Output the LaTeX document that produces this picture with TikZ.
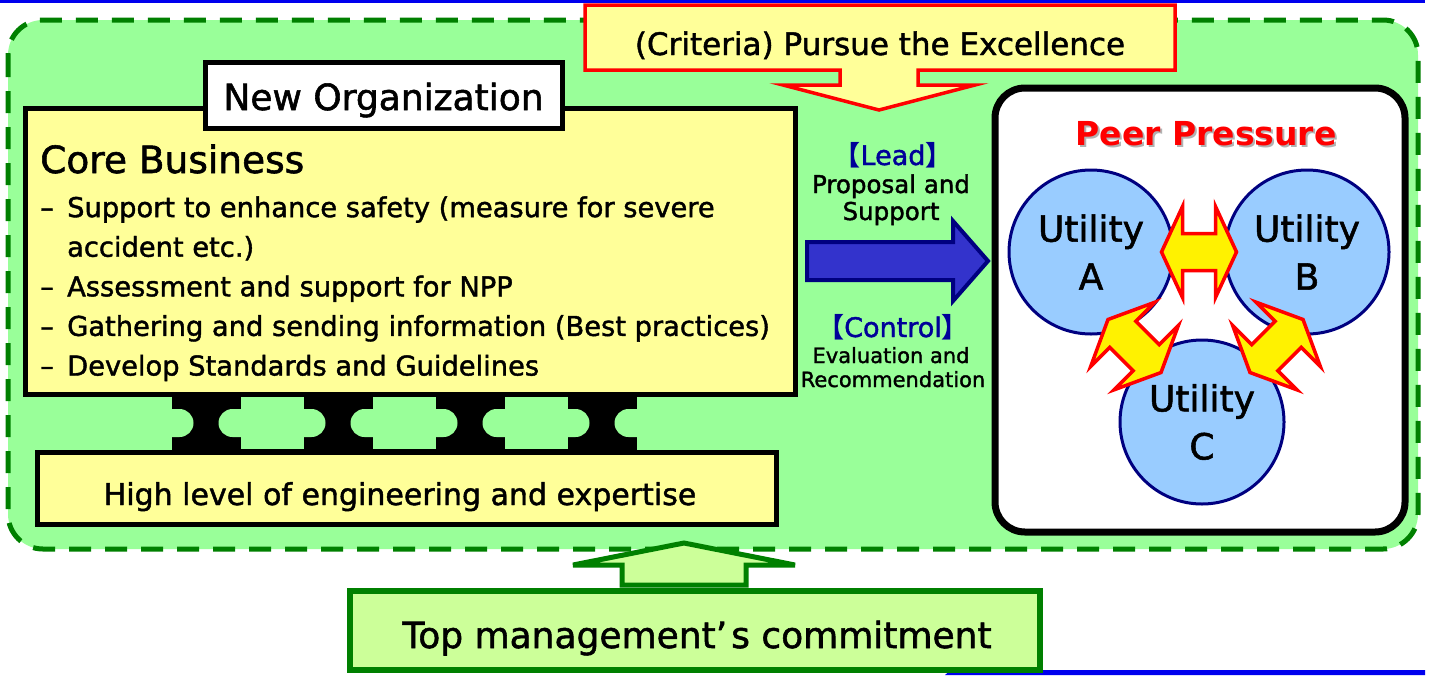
\documentclass[tikz,border=0pt]{standalone}
\usepackage{fontspec}
\setmainfont{DejaVu Sans}[UprightFeatures={FakeBold=1.5}]
\newfontfamily\cjkfont{Noto Sans CJK JP}
\usetikzlibrary{calc}
\definecolor{bggreen}{HTML}{99FF99}
\definecolor{dashgreen}{HTML}{008000}
\definecolor{paleyellow}{HTML}{FFFF99}
\definecolor{lightlime}{HTML}{CCFF99}
\definecolor{arrowblue}{HTML}{3333CC}
\definecolor{navy}{HTML}{000080}
\definecolor{leadblue}{HTML}{000099}
\definecolor{utilblue}{HTML}{99CCFF}
\definecolor{slideblue}{HTML}{0000EE}
\newcommand{\fsz}[2]{\fontsize{#1}{#2}\selectfont}

\tikzset{
  blkbox/.style={draw=black, line width=5pt, inner sep=0pt},
  txt/.style={anchor=base, inner sep=0pt},
  item/.style={anchor=base west, inner sep=0pt, font=\fsz{27.3}{34}},
  util/.style={circle, draw=navy, line width=3pt, fill=utilblue, minimum size=164pt,
    inner sep=0pt, align=center, font=\fsz{36}{48}},
  dblarrow/.pic={
    \draw[red, line width=3.5pt, fill=yellow] (-37.5,0) -- (-16.5,-45.5) -- (-16.5,-18.5)
      -- (16.5,-18.5) -- (16.5,-45.5) -- (37.5,0) -- (16.5,45.5) -- (16.5,18.5)
      -- (-16.5,18.5) -- (-16.5,45.5) -- cycle;
  }
}

\begin{document}
\begin{tikzpicture}[x=1pt,y=-1pt]
        \useasboundingbox (0,0) rectangle (1431,675);
        % slide rules
        \fill[slideblue] (0,0) rectangle (1425,2.5);
        \fill[slideblue] (945,675) -- (951,670) -- (1425,670) -- (1425,675) -- cycle;
        % green area
        \draw[dashgreen, line width=5pt, dash pattern=on 22pt off 14pt, fill=bggreen,
          rounded corners=35pt] (8,20) rectangle (1418,549);
        % criteria
        \draw[red, line width=3.5pt, fill=paleyellow] (585,5) -- (1175,5) -- (1175,70)
          -- (918,70) -- (918,85) -- (975,85) -- (879,110) -- (783,85) -- (840,85)
          -- (840,70) -- (585,70) -- cycle;
        \node[txt, font=\fsz{31}{31}] (criteria) at (880,55) {(Criteria) Pursue the Excellence};
        % core business
        \node[blkbox, fill=paleyellow, minimum width=770, minimum height=286.5] (corebox) at (410.5,251.25) {};
        \node[txt, anchor=base west, font=\fsz{37.5}{37.5}] (coretitle) at (40,173) {Core Business};
        \foreach \t [count=\i] in {%
          {\makebox[27pt][l]{–}Support to enhance safety (measure for severe},
          {\hspace*{27pt}accident etc.)},
          {\makebox[27pt][l]{–}Assessment and support for NPP},
          {\makebox[27pt][l]{–}Gathering and sending information (Best practices)},
          {\makebox[27pt][l]{–}Develop Standards and Guidelines}}
        \node[item] (task\i) at (40,177.5+39.6*\i) {\t};
        % joint
        \fill (172,394.5) rectangle (637,452.5);
        \foreach \c in {140,272,404,536,668} {
          \fill[bggreen] (\c-31.5,397) rectangle (\c+31.5,449);
          \fill[bggreen, rounded corners=14pt] (\c-53.5,409) rectangle (\c+53.5,437);
        }
        \node[blkbox, fill=paleyellow, minimum width=738.5, minimum height=72] (expbox) at (407,488.5) {};
        \node[txt, font=\fsz{30}{30}] (exptext) at (400,505) {High level of engineering and expertise};
        \node[blkbox, fill=white, minimum width=357, minimum height=66] (neworg) at (383.5,95) {};
        \node[txt, font=\fsz{36}{36}] (neworgtext) at (383.5,110) {New Organization};
        % lead and control
        \node[txt, font=\fsz{27}{27}, text=leadblue] (lead) at (893,165) {{\cjkfont\bfseries【}Lead{\cjkfont\bfseries】}};
        \node[txt, font=\fsz{24.5}{24.5}] (leadtext1) at (891,193) {Proposal and};
        \node[txt, font=\fsz{24.5}{24.5}] (leadtext2) at (891,220) {Support};
        \node[txt, font=\fsz{27}{27}, text=leadblue] (control) at (893,337) {{\cjkfont\bfseries【}Control{\cjkfont\bfseries】}};
        \node[txt, font=\fsz{21}{21}] (controltext1) at (891,363) {Evaluation and};
        \node[txt, font=\fsz{21}{21}] (controltext2) at (893,387) {Recommendation};
        \draw[navy, line width=4pt, fill=arrowblue] (807,242) -- (953,242) -- (953,221)
          -- (988,261) -- (953,301) -- (953,280) -- (807,280) -- cycle;
        % peer pressure
        \node[draw=black, line width=7pt, fill=white, rounded corners=30pt,
          minimum width=410, minimum height=444] (peerbox) at (1200,310) {};
        \node[txt, font=\bfseries\fsz{33}{33}, text=black!30] (peershadow) at (1208,147) {Peer Pressure};
        \node[txt, font=\bfseries\fsz{33}{33}, text=red] (peertitle) at (1206,145) {Peer Pressure};
        \node[util] (ua) at (1091,252) {Utility\\A};
        \node[util] (ub) at (1307,252) {Utility\\B};
        \node[util] (uc) at (1202,422) {Utility\\C};
        \pic at ($(ua)!.5!(ub)$) {dblarrow};
        \pic[rotate=-45] at ($(ua)!.5!(uc)+(-12,9)$) {dblarrow};
        \pic[rotate=45] at ($(ub)!.5!(uc)+(22,9)$) {dblarrow};
        % commitment
        \draw[dashgreen, line width=5pt, fill=lightlime] (622,585) -- (622,565) -- (573,565)
          -- (684,543) -- (795,565) -- (746,565) -- (746,585) -- cycle;
        \node[draw=dashgreen, line width=6pt, fill=lightlime, minimum width=690,
          minimum height=79] (topbox) at (695,630.5) {};
        \node[txt, font=\fsz{36}{36}] (toptext) at (697,648) {Top management’\kern4pt s commitment};
\end{tikzpicture}
\end{document}
